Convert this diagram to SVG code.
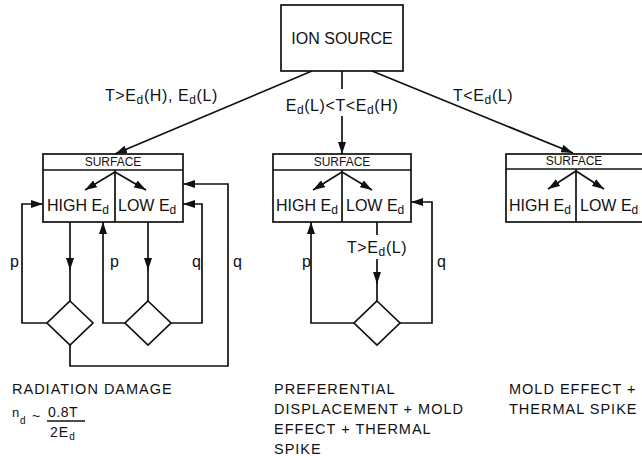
<svg xmlns="http://www.w3.org/2000/svg" width="642" height="456" viewBox="0 0 642 456">
<style>
  .ln{fill:none;stroke:#111;stroke-width:1.7}
  .box{fill:#fff;stroke:#111;stroke-width:1.7}
  text{font-family:"Liberation Sans",Arial,sans-serif;fill:#111}
  .lb{font-size:16px}
  .cl{font-size:16px;letter-spacing:0.6px}
  .sf{font-size:12px}
  .bt{font-size:14.5px;letter-spacing:1px}
  .sub{font-size:12px}
</style>
<defs>
  <marker id="ah" viewBox="0 0 12 8" refX="12" refY="4" markerWidth="12" markerHeight="8" markerUnits="userSpaceOnUse" orient="auto">
    <path d="M0,0 L12,4 L0,8 z" fill="#111"/>
  </marker>
</defs>
<rect width="642" height="456" fill="#fff"/>

<g id="ion-source">
  <rect class="box" x="281" y="5" width="122" height="66"/>
  <text class="lb" x="342" y="44" text-anchor="middle">ION SOURCE</text>
</g>

<g id="surface-left">
  <rect class="box" x="43" y="154" width="140" height="68"/>
  <line class="ln" x1="43" y1="170" x2="183" y2="170"/>
  <line class="ln" x1="115" y1="170" x2="115" y2="222"/>
  <text class="sf" x="113" y="166" text-anchor="middle">SURFACE</text>
  <path class="ln" d="M115,172 L85,190" marker-end="url(#ah)"/>
  <path class="ln" d="M115,172 L146,190" marker-end="url(#ah)"/>
  <text class="lb" x="47" y="211">HIGH E<tspan class="sub" dy="3">d</tspan></text>
  <text class="lb" x="118" y="211">LOW E<tspan class="sub" dy="3">d</tspan></text>
</g>

<g id="surface-middle">
  <rect class="box" x="273" y="154" width="138" height="68"/>
  <line class="ln" x1="273" y1="170" x2="411" y2="170"/>
  <line class="ln" x1="342" y1="170" x2="342" y2="222"/>
  <text class="sf" x="342" y="166" text-anchor="middle">SURFACE</text>
  <path class="ln" d="M342,172 L313,190" marker-end="url(#ah)"/>
  <path class="ln" d="M342,172 L372,190" marker-end="url(#ah)"/>
  <text class="lb" x="276" y="211">HIGH E<tspan class="sub" dy="3">d</tspan></text>
  <text class="lb" x="346" y="211">LOW E<tspan class="sub" dy="3">d</tspan></text>
</g>

<g id="surface-right">
  <rect class="box" x="506" y="154" width="142" height="68"/>
  <line class="ln" x1="506" y1="169" x2="648" y2="169"/>
  <line class="ln" x1="576" y1="169" x2="576" y2="222"/>
  <text class="sf" x="574" y="165" text-anchor="middle">SURFACE</text>
  <path class="ln" d="M576,171 L548,189" marker-end="url(#ah)"/>
  <path class="ln" d="M576,171 L604,189" marker-end="url(#ah)"/>
  <text class="lb" x="509" y="211">HIGH E<tspan class="sub" dy="3">d</tspan></text>
  <text class="lb" x="580" y="211">LOW E<tspan class="sub" dy="3">d</tspan></text>
</g>

<g id="diamond-1"><path class="box" d="M70,301 L93,323 L70,345 L47,323 z"/></g>
<g id="diamond-2"><path class="box" d="M148,301 L171,323 L148,345 L125,323 z"/></g>
<g id="diamond-3"><path class="box" d="M377,301 L400,323 L377,345 L354,323 z"/></g>

<g id="connectors">
  <path class="ln" d="M312,71 L115,154" marker-end="url(#ah)"/>
  <path class="ln" d="M342,71 L342,89"/>
  <path class="ln" d="M342,116 L342,154" marker-end="url(#ah)"/>
  <path class="ln" d="M372,71 L573,153" marker-end="url(#ah)"/>

  <path class="ln" d="M70,222 L70,270" marker-end="url(#ah)"/>
  <path class="ln" d="M70,268 L70,301"/>
  <path class="ln" d="M47,323 L22,323 L22,204 L43,204" marker-end="url(#ah)"/>
  <path class="ln" d="M148,222 L148,270" marker-end="url(#ah)"/>
  <path class="ln" d="M148,268 L148,301"/>
  <path class="ln" d="M125,323 L103,323 L103,222" marker-end="url(#ah)"/>
  <path class="ln" d="M171,323 L202,323 L202,204 L183,204" marker-end="url(#ah)"/>
  <path class="ln" d="M70,345 L70,366 L228,366 L228,184 L183,184" marker-end="url(#ah)"/>

  <path class="ln" d="M377,222 L377,235"/>
  <path class="ln" d="M377,259 L377,284" marker-end="url(#ah)"/>
  <path class="ln" d="M377,282 L377,301"/>
  <path class="ln" d="M354,323 L311,323 L311,222" marker-end="url(#ah)"/>
  <path class="ln" d="M400,323 L432,323 L432,202 L411,202" marker-end="url(#ah)"/>
</g>

<g id="labels">
  <text class="cl" x="105" y="101">T&gt;E<tspan class="sub" dy="3">d</tspan><tspan dy="-3">(H), E</tspan><tspan class="sub" dy="3">d</tspan><tspan dy="-3">(L)</tspan></text>
  <text class="cl" x="342" y="111" text-anchor="middle">E<tspan class="sub" dy="3">d</tspan><tspan dy="-3">(L)&lt;T&lt;E</tspan><tspan class="sub" dy="3">d</tspan><tspan dy="-3">(H)</tspan></text>
  <text class="cl" x="453" y="101">T&lt;E<tspan class="sub" dy="3">d</tspan><tspan dy="-3">(L)</tspan></text>
  <text class="cl" x="347" y="253">T&gt;E<tspan class="sub" dy="3">d</tspan><tspan dy="-3">(L)</tspan></text>
  <text class="lb" x="10" y="267">p</text>
  <text class="lb" x="110" y="267">p</text>
  <text class="lb" x="192" y="267">q</text>
  <text class="lb" x="233" y="267">q</text>
  <text class="lb" x="302" y="267">p</text>
  <text class="lb" x="437" y="267">q</text>

  <text class="bt" x="12" y="394">RADIATION DAMAGE</text>
  <text style="font-size:13px" x="12" y="417">n</text>
  <text style="font-size:10px" x="20" y="424">d</text>
  <text style="font-size:14px" x="32" y="421">~</text>
  <text style="font-size:14px;letter-spacing:0.5px" x="48" y="417">0.8T</text>
  <line class="ln" x1="47" y1="421" x2="85" y2="421"/>
  <text style="font-size:14px;letter-spacing:1px" x="50" y="437">2E<tspan style="font-size:10px" dy="3">d</tspan></text>

  <text class="bt" x="274" y="394">PREFERENTIAL</text>
  <text class="bt" x="274" y="414">DISPLACEMENT + MOLD</text>
  <text class="bt" x="274" y="434">EFFECT + THERMAL</text>
  <text class="bt" x="274" y="454">SPIKE</text>

  <text class="bt" x="509" y="394">MOLD EFFECT +</text>
  <text class="bt" x="509" y="414">THERMAL SPIKE</text>
</g>
</svg>
